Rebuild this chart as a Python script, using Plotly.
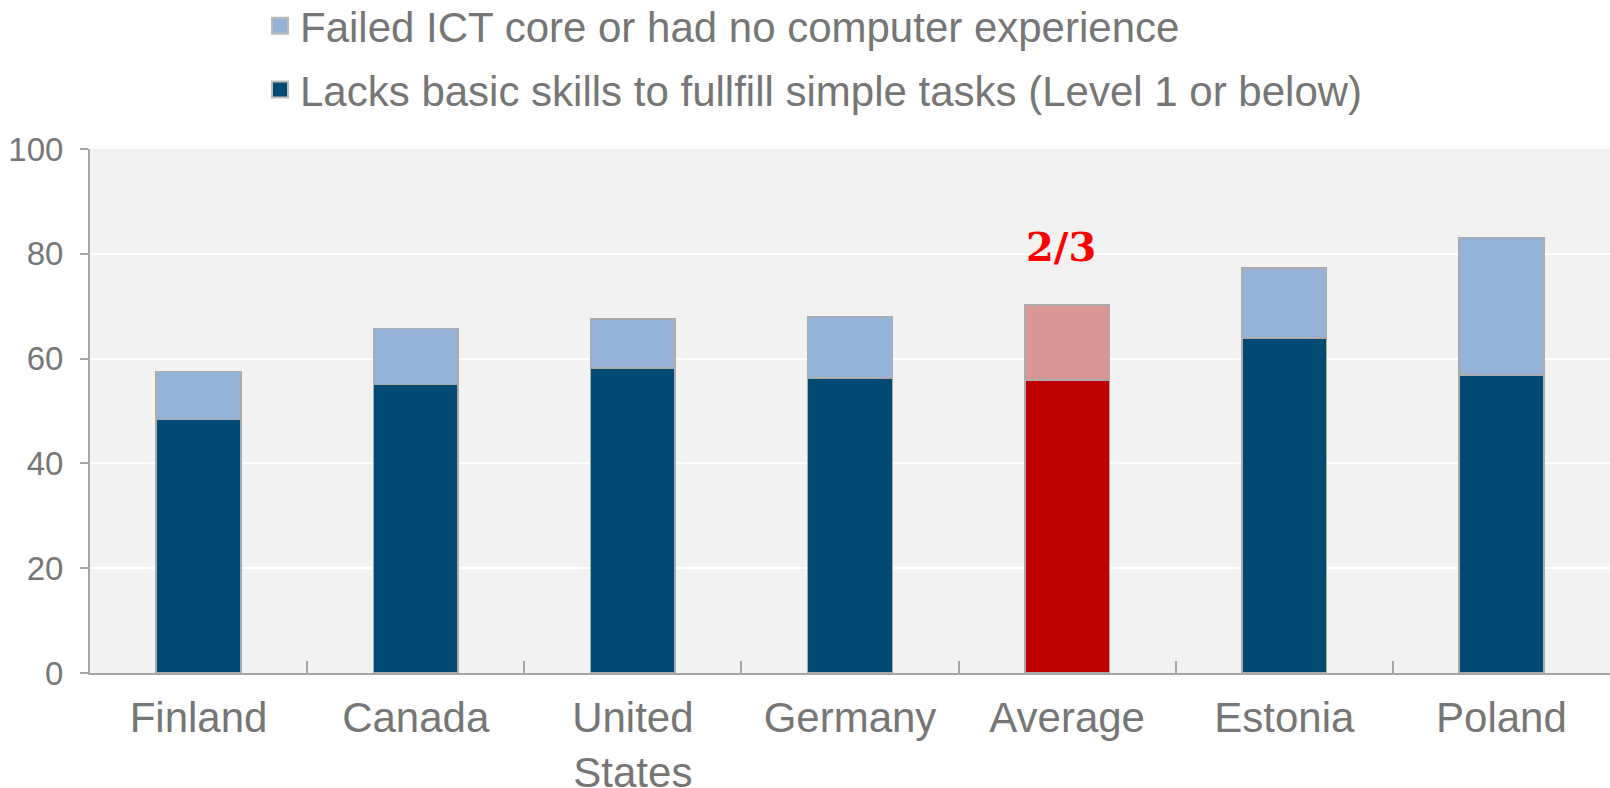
import plotly.graph_objects as go

categories = ["Finland", "Canada", "United<br>States", "Germany", "Average", "Estonia", "Poland"]
lacks_basic = [48.4, 55.1, 58.2, 56.3, 55.9, 63.9, 56.9]
failed_ict = [9.1, 10.6, 9.4, 11.7, 14.3, 13.4, 26.2]
highlight = "Average"

name_lacks = "Lacks basic skills to fullfill simple tasks (Level 1 or below)"
name_failed = "Failed ICT core or had no computer experience"

DARK = "#004A73"
LIGHT = "#95B3D7"
RED_DARK = "#C00000"
RED_LIGHT = "#D99694"
OUTLINE = "#ABABAB"
GRAY_TXT = "#767676"

dark_colors = [RED_DARK if c == highlight else DARK for c in categories]
light_colors = [RED_LIGHT if c == highlight else LIGHT for c in categories]

fig = go.Figure()
fig.add_trace(go.Bar(x=categories, y=lacks_basic, marker=dict(color=dark_colors, line=dict(color=OUTLINE, width=1.5)),
                     showlegend=False, name=name_lacks))
fig.add_trace(go.Bar(x=categories, y=failed_ict, marker=dict(color=light_colors, line=dict(color=OUTLINE, width=1.5)),
                     showlegend=False, name=name_failed))

# legend-only entries (top entry first)
fig.add_trace(go.Scatter(x=[None], y=[None], mode="markers", name=name_failed, legendgroup="a",
                         marker=dict(symbol="square", size=24, color=LIGHT, line=dict(color="#BBBBBB", width=2))))
fig.add_trace(go.Scatter(x=[None], y=[None], mode="markers", name=name_lacks, legendgroup="b",
                         marker=dict(symbol="square", size=24, color=DARK, line=dict(color="#BBBBBB", width=2))))

avg_idx = categories.index(highlight)
fig.add_annotation(x=highlight, y=lacks_basic[avg_idx] + failed_ict[avg_idx] + 11.2, text="<b>2/3</b>",
                   showarrow=False, xshift=-6,
                   font=dict(family="DejaVu Serif", size=40, color="#FF0000"))

fig.update_layout(
    width=1610, height=788,
    barmode="stack", bargap=0.61,
    plot_bgcolor="#F2F2F2", paper_bgcolor="white",
    margin=dict(l=90, r=0, t=149, b=115, autoexpand=False),
    font=dict(family="Liberation Sans, Arial", color=GRAY_TXT),
    legend=dict(x=0.1615, y=1.2996, xanchor="left", yanchor="top", xref="container", yref="paper",
                font=dict(size=42, color=GRAY_TXT), traceorder="grouped", tracegroupgap=6,
                bgcolor="rgba(0,0,0,0)"),
    showlegend=True,
)
fig.update_xaxes(showline=True, linecolor="#A6A6A6", linewidth=2, tickson="boundaries",
                 ticks="inside", ticklen=12, tickcolor="#A6A6A6", tickwidth=1.5, automargin=False,
                 tickfont=dict(size=42, color=GRAY_TXT), ticklabelstandoff=7, showgrid=False)
fig.update_yaxes(range=[0, 100], dtick=20, showline=True, linecolor="#A6A6A6", linewidth=2,
                 ticks="outside", ticklen=8, tickcolor="#A6A6A6", tickwidth=1.5, automargin=False,
                 gridcolor="white", gridwidth=2, zeroline=False,
                 tickfont=dict(size=33, color=GRAY_TXT), ticklabelstandoff=10)

fig.write_html("out.html", config={"displayModeBar": False},
               post_script="document.body.style.margin='0';document.body.style.overflow='hidden';")
